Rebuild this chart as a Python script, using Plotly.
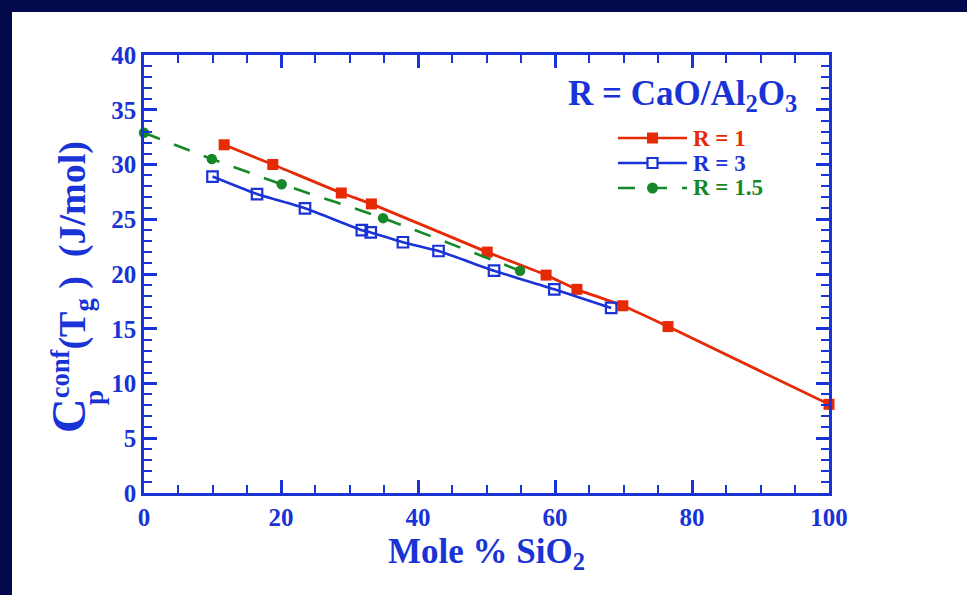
import plotly.graph_objects as go

# Configurational heat capacity at Tg versus silica content
r1_x = [11.7, 18.8, 28.8, 33.2, 50.1, 58.7, 63.2, 69.9, 76.5, 100.0]
r1_y = [31.8, 30.0, 27.4, 26.4, 22.0, 19.9, 18.6, 17.1, 15.2, 8.1]

r3_x = [10.0, 16.5, 23.5, 31.8, 33.1, 37.8, 43.0, 51.1, 59.9, 68.2]
r3_y = [28.9, 27.3, 26.0, 24.0, 23.8, 22.9, 22.1, 20.3, 18.6, 16.9]

r15_x = [0.0, 9.9, 20.1, 34.9, 54.9]
r15_y = [32.9, 30.5, 28.2, 25.1, 20.3]

x_ticks = [0, 20, 40, 60, 80, 100]
y_ticks = [0, 5, 10, 15, 20, 25, 30, 35, 40]

series_names = ["R = 1", "R = 3", "R = 1.5"]

BLUE = "#1933d6"
RED = "#e62a06"
GREEN = "#16882a"
NAVY = "#03094a"
SERIF = "Liberation Serif"

W, H = 967, 595
L, R, T, B = 144, 138, 55, 102
PW, PH = W - L - R, H - T - B


def px_x(px):
    return (px - L) / PW


def px_y(py):
    return (H - B - py) / PH


fig = go.Figure()

fig.add_trace(go.Scatter(
    x=r1_x, y=r1_y, mode="lines+markers", name=series_names[0],
    line=dict(color=RED, width=2.8, shape="spline", smoothing=0.5),
    marker=dict(symbol="square", size=11, color=RED),
    cliponaxis=False, showlegend=False,
))
fig.add_trace(go.Scatter(
    x=r3_x, y=r3_y, mode="lines+markers", name=series_names[1],
    line=dict(color=BLUE, width=2.6, shape="spline", smoothing=0.5),
    marker=dict(symbol="square-open", size=10.5, color=BLUE, line=dict(width=2.2)),
    cliponaxis=False, showlegend=False,
))
fig.add_trace(go.Scatter(
    x=r15_x, y=r15_y, mode="lines+markers", name=series_names[2],
    line=dict(color=GREEN, width=2.6, shape="spline", smoothing=0.5, dash="17px,15px"),
    marker=dict(symbol="circle", size=10.5, color=GREEN),
    cliponaxis=False, showlegend=False,
))

axis_common = dict(
    showline=True, linecolor=BLUE, linewidth=2.5, mirror="ticks",
    ticks="inside", ticklen=13, tickwidth=2.5, tickcolor=BLUE,
    showgrid=False, zeroline=False,
    tickfont=dict(family=SERIF, size=25, color=BLUE, weight="bold"),
)

fig.update_xaxes(
    range=[0, 100], tickvals=x_ticks,
    minor=dict(ticks="inside", ticklen=8, tickwidth=2, tickcolor=BLUE, dtick=5, showgrid=False),
    title=dict(text="Mole % SiO<sub>2</sub>", standoff=9,
               font=dict(family=SERIF, size=35, color=BLUE, weight="bold")),
    **axis_common,
)
fig.update_yaxes(
    range=[0, 40], tickvals=y_ticks,
    minor=dict(ticks="inside", ticklen=8, tickwidth=2, tickcolor=BLUE, dtick=1, showgrid=False),
    **axis_common,
)

# rotated y-axis title: C^conf (Tg) (J/mol), with the subscript p placed under "conf"
fig.add_annotation(
    xref="paper", yref="paper", x=px_x(70), y=px_y(287),
    xanchor="center", yanchor="middle", textangle=-90, showarrow=False,
    text="<span style='font-size:48px'>C</span><sup>conf</sup>(T<sub>g</sub> )  (J/mol)",
    font=dict(family=SERIF, size=38, color=BLUE, weight="bold"),
)
fig.add_annotation(
    xref="paper", yref="paper", x=px_x(94), y=px_y(398),
    xanchor="center", yanchor="middle", textangle=-90, showarrow=False,
    text="p",
    font=dict(family=SERIF, size=27, color=BLUE, weight="bold"),
)

# key: title plus one sample row per series
fig.add_annotation(
    xref="paper", yref="paper", x=px_x(566), y=px_y(96),
    xanchor="left", yanchor="middle", showarrow=False,
    text="R = CaO/Al<sub>2</sub>O<sub>3</sub>",
    font=dict(family=SERIF, size=35, color=BLUE, weight="bold"),
)
key_rows = [
    (series_names[0], RED, 138, "solid", "square"),
    (series_names[1], BLUE, 163, "solid", "square-open"),
    (series_names[2], GREEN, 188, "17px,15px", "circle"),
]
for name, color, ypx, dash, sym in key_rows:
    fig.add_shape(
        type="line", xref="paper", yref="paper",
        x0=px_x(618), x1=px_x(687), y0=px_y(ypx), y1=px_y(ypx),
        line=dict(color=color, width=2.6, dash=dash),
    )
    if sym == "circle":
        fig.add_shape(
            type="circle", xref="paper", yref="paper",
            x0=px_x(647), x1=px_x(658), y0=px_y(ypx + 5.5), y1=px_y(ypx - 5.5),
            fillcolor=color, line=dict(width=0),
        )
    elif sym == "square":
        fig.add_shape(
            type="rect", xref="paper", yref="paper",
            x0=px_x(647), x1=px_x(658), y0=px_y(ypx + 5.5), y1=px_y(ypx - 5.5),
            fillcolor=color, line=dict(width=0),
        )
    else:
        fig.add_shape(
            type="rect", xref="paper", yref="paper",
            x0=px_x(647.5), x1=px_x(657.5), y0=px_y(ypx + 5), y1=px_y(ypx - 5),
            fillcolor="white", line=dict(color=color, width=2.2),
        )
    fig.add_annotation(
        xref="paper", yref="paper", x=px_x(691), y=px_y(ypx),
        xanchor="left", yanchor="middle", showarrow=False, text=name,
        font=dict(family=SERIF, size=23, color=color, weight="bold"),
    )

# navy frame along the top and left edges
fig.add_shape(
    type="rect", xref="paper", yref="paper",
    x0=px_x(0), x1=px_x(W), y0=px_y(12), y1=px_y(0),
    fillcolor=NAVY, line=dict(width=0), layer="below",
)
fig.add_shape(
    type="rect", xref="paper", yref="paper",
    x0=px_x(0), x1=px_x(12), y0=px_y(H), y1=px_y(0),
    fillcolor=NAVY, line=dict(width=0), layer="below",
)

fig.update_layout(
    width=W, height=H,
    margin=dict(l=L, r=R, t=T, b=B),
    paper_bgcolor="white", plot_bgcolor="white",
    showlegend=False,
)

fig.write_html("out.html")
